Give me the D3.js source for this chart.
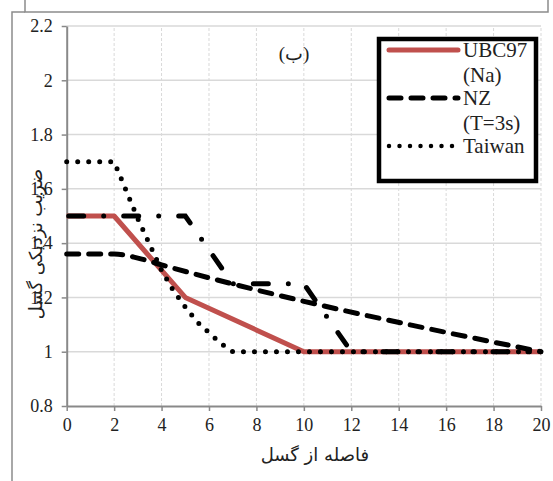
<!DOCTYPE html>
<html><head><meta charset="utf-8">
<script src="https://cdn.jsdelivr.net/npm/d3@7"></script>
<style>html,body{margin:0;padding:0;background:#fff;}svg{display:block;}</style>
</head><body>
<svg id="chart" width="553" height="481"></svg>
<script>
// ---- data ----
const xTicks = [0,2,4,6,8,10,12,14,16,18,20];
const yTicks = [0.8,1,1.2,1.4,1.6,1.8,2,2.2];
const ubcX = [0,2,5,10,20];
const ubcY = [1.5,1.5,1.2,1.0,1.0];
const nzX = [0,2,3,4,20];
const nzY = [1.36,1.36,1.345,1.32,1.0];
const twX = [0,2,2.5,3,3.5,4,4.5,5,5.5,6,6.5,7,20];
const twY = [1.7,1.7,1.595,1.49,1.395,1.3,1.225,1.165,1.11,1.07,1.03,1.0,1.0];
const s4X = [0,5,7,10,12,20];
const s4Y = [1.5,1.5,1.25,1.25,1.0,1.0];
const legendLabels = [["UBC97","(Na)"],["NZ","(T=3s)"],["Taiwan"]];
const xTitle = "فاصله از گسل";
const yTitle = "ضریب نزدیکی گسل";
const panelLabel = "(ب)";

const svg = d3.select("#chart");
const x = d3.scaleLinear().domain([0,20]).range([66.7,541]);
const y = d3.scaleLinear().domain([0.8,2.2]).range([406,26]);
const serif = "'Liberation Serif','Times New Roman',serif";

// frames
const frame = svg.append("g").attr("stroke","#8c8c8c").attr("stroke-width",1.5).attr("fill","none");
frame.append("path").attr("d","M25,0V12H548V0");
frame.append("path").attr("d","M12,481V12H25");

// grid
const grid = svg.append("g");
grid.selectAll("line.h").data(yTicks.slice(1)).join("line")
  .attr("x1",x(0)).attr("x2",x(20)).attr("y1",d=>y(d)).attr("y2",d=>y(d))
  .attr("stroke","#d9d9d9").attr("stroke-width",1.5);
grid.selectAll("line.v").data(xTicks.slice(1)).join("line")
  .attr("x1",d=>x(d)).attr("x2",d=>x(d)).attr("y1",y(0.8)).attr("y2",y(2.2))
  .attr("stroke","#d9d9d9").attr("stroke-width",1).attr("stroke-dasharray","3,2");

// axes
const xAxis = svg.append("g").attr("transform",`translate(0,${y(0.8)})`)
  .call(d3.axisBottom(x).tickValues(xTicks).tickSize(5).tickPadding(7).tickSizeOuter(0));
const yAxis = svg.append("g").attr("transform",`translate(${x(0)},0)`)
  .call(d3.axisLeft(y).tickValues(yTicks).tickFormat(d=>d3.format("")(+d.toFixed(1))).tickSize(5).tickPadding(9).tickSizeOuter(0));
[xAxis,yAxis].forEach(a=>{
  a.attr("font-family",serif).attr("font-size",18);
  a.select(".domain").attr("stroke","#898989").attr("stroke-width",2);
  a.selectAll(".tick line").attr("stroke","#898989").attr("stroke-width",1.5);
  a.selectAll(".tick text").attr("font-family",serif).attr("font-size",18).attr("fill","#222");
});

// lines
const mk = (xs,ys)=>xs.map((v,i)=>[v,ys[i]]);
const line = d3.line().x(d=>x(d[0])).y(d=>y(d[1]));
const lineSmooth = d3.line().x(d=>x(d[0])).y(d=>y(d[1])).curve(d3.curveMonotoneX);
const plot = svg.append("g").attr("fill","none");
plot.append("path").attr("d",line(mk(ubcX,ubcY))).attr("stroke","#C0504D").attr("stroke-width",5).attr("stroke-linejoin","round");
plot.append("path").attr("d",lineSmooth(mk(nzX,nzY))).attr("stroke","#000").attr("stroke-width",5)
  .attr("stroke-dasharray","12,10").attr("stroke-linecap","round");
plot.append("path").attr("d",line(mk(twX,twY))).attr("stroke","#000").attr("stroke-width",5)
  .attr("stroke-dasharray","0,11").attr("stroke-linecap","round");
plot.append("path").attr("d",line(mk(s4X,s4Y))).attr("stroke","#000").attr("stroke-width",5)
  .attr("stroke-dasharray","15,20,0,20").attr("stroke-linecap","round").attr("stroke-dashoffset",-2);

// panel label
svg.append("text").attr("x",294).attr("y",60).attr("text-anchor","middle")
  .attr("font-family",serif).attr("font-size",19).attr("fill","#222").text(panelLabel);

// axis titles
svg.append("text").attr("x",(x(0)+x(20))/2+11).attr("y",461).attr("text-anchor","middle")
  .attr("font-family","'DejaVu Sans',sans-serif").attr("font-size",18).attr("fill","#222").text(xTitle);
svg.append("text").attr("transform","translate(42,244) rotate(-90)").attr("text-anchor","middle")
  .attr("font-family","'DejaVu Sans',sans-serif").attr("font-size",18).attr("fill","#222").text(yTitle);

// legend
const lg = svg.append("g");
lg.append("rect").attr("x",379).attr("y",39).attr("width",157).attr("height",142)
  .attr("fill","#fff").attr("stroke","#000").attr("stroke-width",4.5);
const styles = [
  {stroke:"#C0504D", w:5, dash:null, cap:"round"},
  {stroke:"#000", w:5, dash:"12,10", cap:"round"},
  {stroke:"#000", w:4.5, dash:"0,10.5", cap:"round"}
];
const ly = [50,98,146];
legendLabels.forEach((lab,i)=>{
  const st = styles[i];
  const p = lg.append("line").attr("x1",389).attr("x2",458).attr("y1",ly[i]).attr("y2",ly[i])
    .attr("stroke",st.stroke).attr("stroke-width",st.w).attr("stroke-linecap",st.cap);
  if(st.dash) p.attr("stroke-dasharray",st.dash);
  lab.forEach((t,j)=>{
    lg.append("text").attr("x",463).attr("y",ly[i]+7+j*25).attr("font-family",serif)
      .attr("font-size",21).attr("fill","#222").text(t);
  });
});
</script>
</body></html>
